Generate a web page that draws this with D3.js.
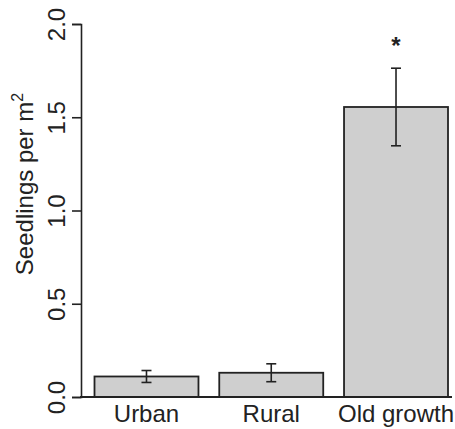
<!DOCTYPE html>
<html lang="en">
<head>
    <meta charset="UTF-8">
    <title>Seedlings per m2</title>
    <script src="https://d3js.org/d3.v7.min.js"></script>
</head>
<style>
    body { margin: 0; background: #fff; }
    svg text {
        font-family: "Liberation Sans", Arial, Helvetica, sans-serif;
        font-size: 24px;
        fill: #222;
    }
</style>
<body>
    <script>
        const categories = ["Urban", "Rural", "Old growth"]
        const means = [0.11, 0.13, 1.555]
        const errors = [0.032, 0.048, 0.208]
        const significant = [false, false, true]
        const yTicks = [0, 0.5, 1.0, 1.5, 2.0]

        const width = 455
        const height = 429

        const x = d3.scaleBand()
            .domain(categories)
            .range([94.5, 448])
            .paddingInner(1 / 6)
            .paddingOuter(0)
        const y = d3.scaleLinear().domain([0, 2]).range([397, 24])

        const svg = d3.select("body").append("svg")
            .attr("width", width)
            .attr("height", height)

        const data = categories.map((c, i) => ({ cat: c, mean: means[i], se: errors[i], sig: significant[i] }))

        // bars
        svg.selectAll("rect.bar").data(data).enter().append("rect")
            .attr("class", "bar")
            .attr("x", d => x(d.cat))
            .attr("y", d => y(d.mean))
            .attr("width", x.bandwidth())
            .attr("height", d => y(0) - y(d.mean))
            .attr("fill", "#cfcfcf")
            .attr("stroke", "#222")
            .attr("stroke-width", 1.8)

        // error bars
        const cap = 5
        const eb = svg.selectAll("g.err").data(data).enter().append("g")
            .attr("class", "err")
            .attr("stroke", "#222")
            .attr("stroke-width", 1.6)
        eb.append("line")
            .attr("x1", d => x(d.cat) + x.bandwidth() / 2)
            .attr("x2", d => x(d.cat) + x.bandwidth() / 2)
            .attr("y1", d => y(d.mean - d.se))
            .attr("y2", d => y(d.mean + d.se))
        eb.append("line")
            .attr("x1", d => x(d.cat) + x.bandwidth() / 2 - cap)
            .attr("x2", d => x(d.cat) + x.bandwidth() / 2 + cap)
            .attr("y1", d => y(d.mean + d.se))
            .attr("y2", d => y(d.mean + d.se))
        eb.append("line")
            .attr("x1", d => x(d.cat) + x.bandwidth() / 2 - cap)
            .attr("x2", d => x(d.cat) + x.bandwidth() / 2 + cap)
            .attr("y1", d => y(d.mean - d.se))
            .attr("y2", d => y(d.mean - d.se))

        // significance star
        svg.selectAll("text.star").data(data.filter(d => d.sig)).enter().append("text")
            .attr("class", "star")
            .attr("x", d => x(d.cat) + x.bandwidth() / 2)
            .attr("y", d => y(d.mean + d.se) - 14)
            .attr("text-anchor", "middle")
            .style("font-weight", "bold")
            .text("*")

        // x axis line
        svg.append("line")
            .attr("x1", 80).attr("x2", 452)
            .attr("y1", y(0)).attr("y2", y(0))
            .attr("stroke", "#222")
            .attr("stroke-width", 2)

        svg.selectAll("text.xlab").data(categories).enter().append("text")
            .attr("class", "xlab")
            .attr("x", d => x(d) + x.bandwidth() / 2)
            .attr("y", 422)
            .attr("text-anchor", "middle")
            .text(d => d)

        // y axis
        const yAxis = svg.append("g")
            .attr("transform", "translate(81,0)")
            .call(d3.axisLeft(y).tickValues(yTicks).tickSize(9).tickFormat(d3.format(".1f")))
        yAxis.select(".domain").attr("stroke", "#222").attr("stroke-width", 1.6)
        yAxis.selectAll(".tick line").attr("stroke", "#222").attr("stroke-width", 1.6)
        yAxis.selectAll(".tick text")
            .attr("x", null).attr("dy", null)
            .attr("transform", "translate(-16,0) rotate(-90)")
            .attr("text-anchor", "middle")
            .style("font-size", "24px")
            .style("font-family", "\"Liberation Sans\", Arial, sans-serif")
            .attr("fill", "#222")

        const title = svg.append("text")
            .attr("transform", "translate(33,184) rotate(-90)")
            .attr("text-anchor", "middle")
        title.append("tspan").text("Seedlings per m")
        title.append("tspan").attr("dy", -10).style("font-size", "16px").text("2")
    </script>
</body>
</html>
